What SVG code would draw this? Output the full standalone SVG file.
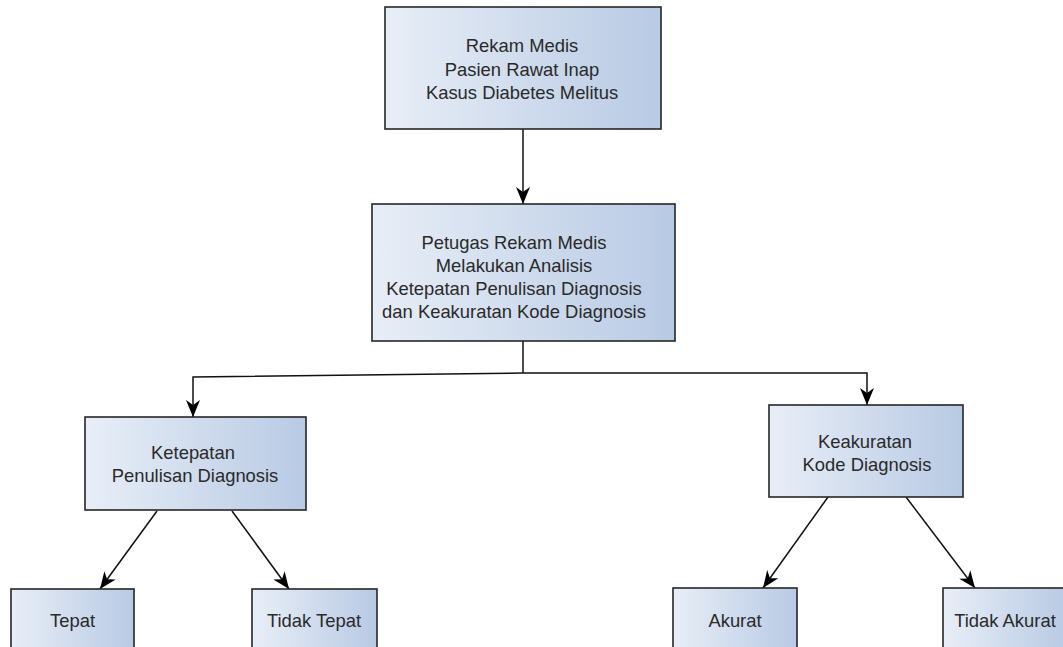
<svg xmlns="http://www.w3.org/2000/svg" width="1063" height="647" viewBox="0 0 1063 647">
<defs>
<linearGradient id="g" x1="0" y1="0" x2="1" y2="0">
<stop offset="0" stop-color="#e8eef7"/>
<stop offset="1" stop-color="#b8cae4"/>
</linearGradient>
<marker id="arr" markerWidth="18" markerHeight="14" refX="17" refY="7" orient="auto" markerUnits="userSpaceOnUse">
<path d="M0,0 L17,7 L0,14 L5,7 Z" fill="#000"/>
</marker>
<style>
.box{fill:url(#g);stroke:#262626;stroke-width:1.6}
.t{font-family:"Liberation Sans",Arial,sans-serif;font-size:18.4px;fill:#2a2a2a;text-anchor:middle}
.c{fill:none;stroke:#111;stroke-width:1.5;marker-end:url(#arr)}
.l{fill:none;stroke:#111;stroke-width:1.5}
</style>
</defs>
<rect width="1063" height="647" fill="#fff"/>
<g id="connectors">
<path class="c" d="M523,129 L523,204"/>
<path class="l" d="M523,341 L523,373"/>
<path class="c" d="M523,373 L193,377 L193,417"/>
<path class="c" d="M523,373 L867,373 L867,405"/>
<path class="c" d="M157,511 L100,589"/>
<path class="c" d="M232,511 L289,589"/>
<path class="c" d="M828,497 L763,588"/>
<path class="c" d="M906,497 L975,588"/>
</g>
<g id="n1">
<rect class="box" x="385" y="7" width="276" height="122"/>
<text class="t" x="522" y="52">Rekam Medis</text>
<text class="t" x="522" y="76">Pasien Rawat Inap</text>
<text class="t" x="522" y="99">Kasus Diabetes Melitus</text>
</g>
<g id="n2">
<rect class="box" x="372" y="204" width="303" height="137"/>
<text class="t" x="514" y="249">Petugas Rekam Medis</text>
<text class="t" x="514" y="272">Melakukan Analisis</text>
<text class="t" x="514" y="295">Ketepatan Penulisan Diagnosis</text>
<text class="t" x="514" y="318">dan Keakuratan Kode Diagnosis</text>
</g>
<g id="n3">
<rect class="box" x="85" y="417" width="221" height="93"/>
<text class="t" x="193" y="459">Ketepatan</text>
<text class="t" x="195" y="482">Penulisan Diagnosis</text>
</g>
<g id="n4">
<rect class="box" x="769" y="405" width="194" height="92"/>
<text class="t" x="865" y="448">Keakuratan</text>
<text class="t" x="867" y="471">Kode Diagnosis</text>
</g>
<g id="n5">
<rect class="box" x="11" y="589" width="123" height="70"/>
<text class="t" x="72.5" y="627">Tepat</text>
</g>
<g id="n6">
<rect class="box" x="252" y="589" width="125" height="70"/>
<text class="t" x="314" y="627">Tidak Tepat</text>
</g>
<g id="n7">
<rect class="box" x="673" y="588" width="124" height="70"/>
<text class="t" x="735" y="627">Akurat</text>
</g>
<g id="n8">
<rect class="box" x="943" y="588" width="124" height="70"/>
<text class="t" x="1005" y="627">Tidak Akurat</text>
</g>
</svg>
